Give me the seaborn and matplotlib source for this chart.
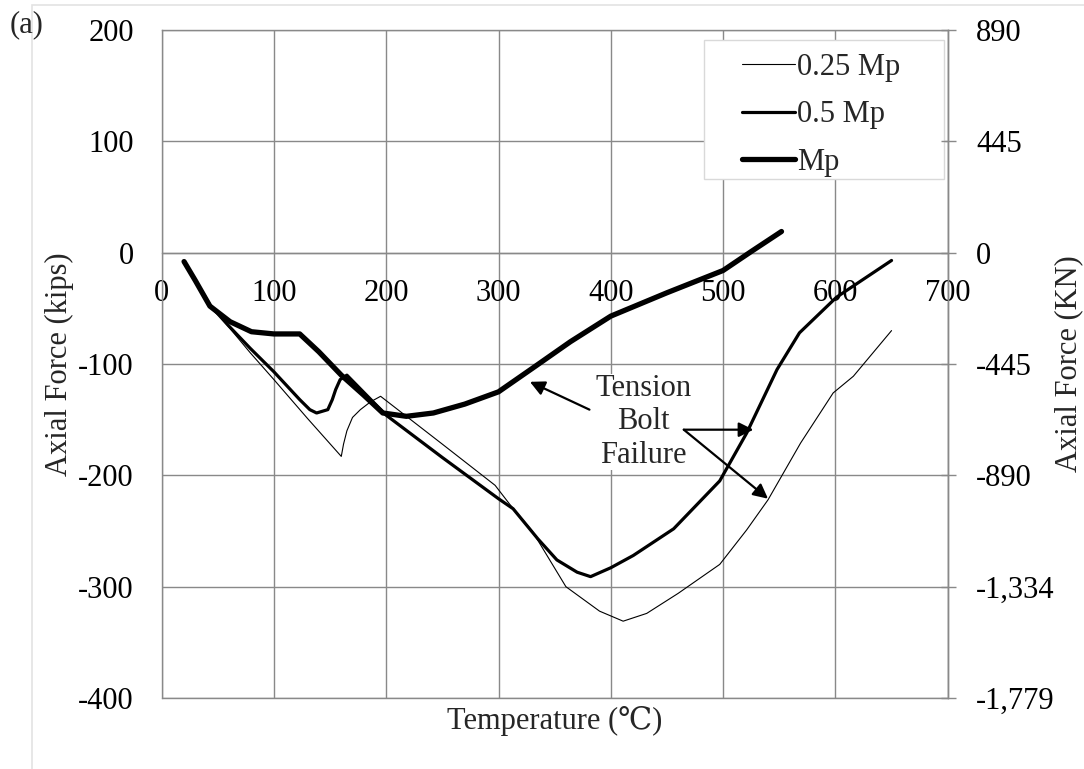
import matplotlib
matplotlib.use("Agg")
import matplotlib.pyplot as plt
import seaborn as sns
from matplotlib.patches import Rectangle
from matplotlib.ticker import FixedLocator, FixedFormatter

# ---------------- data ----------------
series_labels = ["0.25 Mp", "0.5 Mp", "Mp"]

temp_025 = [20, 30, 43, 60, 79, 100, 130, 160, 162, 165, 170, 177, 186, 195,
            250, 297, 310, 330, 360, 390, 411, 432, 460, 497, 521, 540, 569,
            598, 616, 650]
force_025 = [-8, -25, -47, -67, -90, -114, -149, -183, -172, -160, -148, -141,
             -134, -129, -172, -209, -226, -250, -300, -322, -331, -324, -306,
             -280, -249, -222, -171, -126, -111, -70]

temp_05 = [20, 30, 43, 60, 79, 100, 123, 132, 138, 148, 152, 155, 159, 165,
           200, 250, 300, 313, 335, 352, 370, 382, 400, 420, 456, 497, 521,
           548, 568, 601, 650]
force_05 = [-8, -25, -47, -66, -86, -107, -132, -141, -144, -141, -132, -123,
            -114, -110, -146, -184, -221, -230, -257, -276, -287, -291, -283,
            -272, -248, -205, -162, -105, -72, -40, -7]

temp_mp = [20, 30, 43, 61, 80, 100, 123, 140, 160, 180, 197, 218, 242, 270,
           300, 330, 364, 400, 450, 500, 525, 552]
force_mp = [-8, -25, -48, -62, -71, -73, -73, -89, -110, -128, -144, -147,
            -144, -136, -125, -104, -80, -57, -36, -16, 1, 19]

x_ticks = [0, 100, 200, 300, 400, 500, 600, 700]
y_ticks_kips = [-400, -300, -200, -100, 0, 100, 200]
y_tick_labels_kips = ["-400", "-300", "-200", "-100", "0", "100", "200"]
kn_tick_labels = ["-1,779", "-1,334", "-890", "-445", "0", "445", "890"]
KIPS_TO_KN = 4.448

# ---------------- style ----------------
sns.set_style("white")
plt.rcParams["font.family"] = ["Liberation Serif", "DejaVu Serif", "DejaVu Sans"]
plt.rcParams["axes.unicode_minus"] = False
FS = 22
GRID = "#898989"

W, H = 1084, 769
L, R, T, B = 161.6, 947.7, 30, 698
fig = plt.figure(figsize=(W / 100, H / 100), dpi=100)
fig.patch.set_facecolor("white")

# faint chart-area border
fig.patches.append(Rectangle((32 / W, -0.1), 1.2, 1.1 - 5 / H,
                             transform=fig.transFigure, facecolor="none",
                             edgecolor="#e3e3e3", lw=1.2))

ax = fig.add_axes([L / W, 1 - B / H, (R - L) / W, (B - T) / H])

widths = [0.8, 2.3, 3.8]
for temps, forces, label, lw in zip([temp_025, temp_05, temp_mp],
                                    [force_025, force_05, force_mp],
                                    series_labels, widths):
    sns.lineplot(x=temps, y=forces, ax=ax, color="black", linewidth=lw,
                 label=label, sort=False, estimator=None,
                 solid_joinstyle="round", solid_capstyle="round", zorder=3)

ax.set_xlim(0, 700)
ax.set_ylim(-400, 200)
ax.xaxis.set_major_locator(FixedLocator(x_ticks))
ax.yaxis.set_major_locator(FixedLocator(y_ticks_kips))
ax.yaxis.set_major_formatter(FixedFormatter(y_tick_labels_kips))
ax.grid(True, color=GRID, lw=1.0)
ax.set_axisbelow(True)

for s in ["top", "left", "right"]:
    ax.spines[s].set_color(GRID)
    ax.spines[s].set_linewidth(1.0)
ax.spines["bottom"].set_position(("data", 0))
ax.spines["bottom"].set_color(GRID)
ax.spines["bottom"].set_linewidth(1.0)
ax.axhline(-400, color=GRID, lw=1.0, clip_on=False, zorder=2.5)

ax.tick_params(axis="x", length=0, pad=19, labelsize=FS, colors="black")
ax.tick_params(axis="y", length=0, pad=20, labelsize=FS, colors="black")

ax.set_xlabel("Temperature (\u2103)", fontsize=FS)
ax.xaxis.set_label_coords(0.5, -0.012)
ax.set_ylabel("Axial Force (kips)", fontsize=FS)
ax.yaxis.set_label_coords(-0.112, 0.5)

# secondary (kN) axis
ax2 = ax.twinx()
ax2.set_ylim(-400 * KIPS_TO_KN, 200 * KIPS_TO_KN)
ax2.yaxis.set_major_locator(FixedLocator([v * KIPS_TO_KN for v in y_ticks_kips]))
ax2.yaxis.set_major_formatter(FixedFormatter(kn_tick_labels))
for s in ["top", "left", "bottom"]:
    ax2.spines[s].set_visible(False)
ax2.spines["right"].set_color(GRID)
ax2.spines["right"].set_linewidth(1.0)
ax2.tick_params(axis="y", direction="inout", length=10.8, width=1.0,
                color=GRID, pad=15, labelsize=FS, labelcolor="black")
ax2.grid(False)
ax2.set_ylabel("Axial Force (KN)", fontsize=FS)
ax2.yaxis.set_label_coords(1.135, 0.5)

# legend with Excel-like box
ax.get_legend().remove()
handles, labels = ax.get_legend_handles_labels()
ax.add_patch(Rectangle(((704 - L) / (R - L), (B - 179) / (B - T)),
                       (944 - 704) / (R - L), (179 - 40) / (B - T),
                       transform=ax.transAxes, facecolor="white",
                       edgecolor="#d9d9d9", lw=1.0, zorder=4))
leg = ax.legend(handles, labels, frameon=False, loc="upper left",
                bbox_to_anchor=((742 - L) / (R - L), (B - 53) / (B - T)),
                borderpad=0, borderaxespad=0, handlelength=1.72,
                handletextpad=0.07, labelspacing=0.6, fontsize=FS)
leg.set_zorder(6)

# annotations
ax.text(429, -152, "Tension\nBolt\nFailure", ha="center", va="center",
        fontsize=FS, multialignment="center", zorder=4,
        bbox=dict(facecolor="white", edgecolor="none", pad=0))
arrow = dict(arrowstyle="-|>", color="black", lw=1.6, mutation_scale=22,
             shrinkA=0, shrinkB=0)
ax.annotate("", xy=(328, -116), xytext=(381, -141), arrowprops=arrow, zorder=5)
ax.annotate("", xy=(527, -159), xytext=(465, -159), arrowprops=arrow, zorder=5)
ax.annotate("", xy=(540, -221), xytext=(465, -159), arrowprops=arrow, zorder=5)

fig.text(27 / W, 1 - 25 / H, "(a)", ha="center", va="center", fontsize=FS)

fig.savefig("out.png", dpi=100, facecolor="white")
